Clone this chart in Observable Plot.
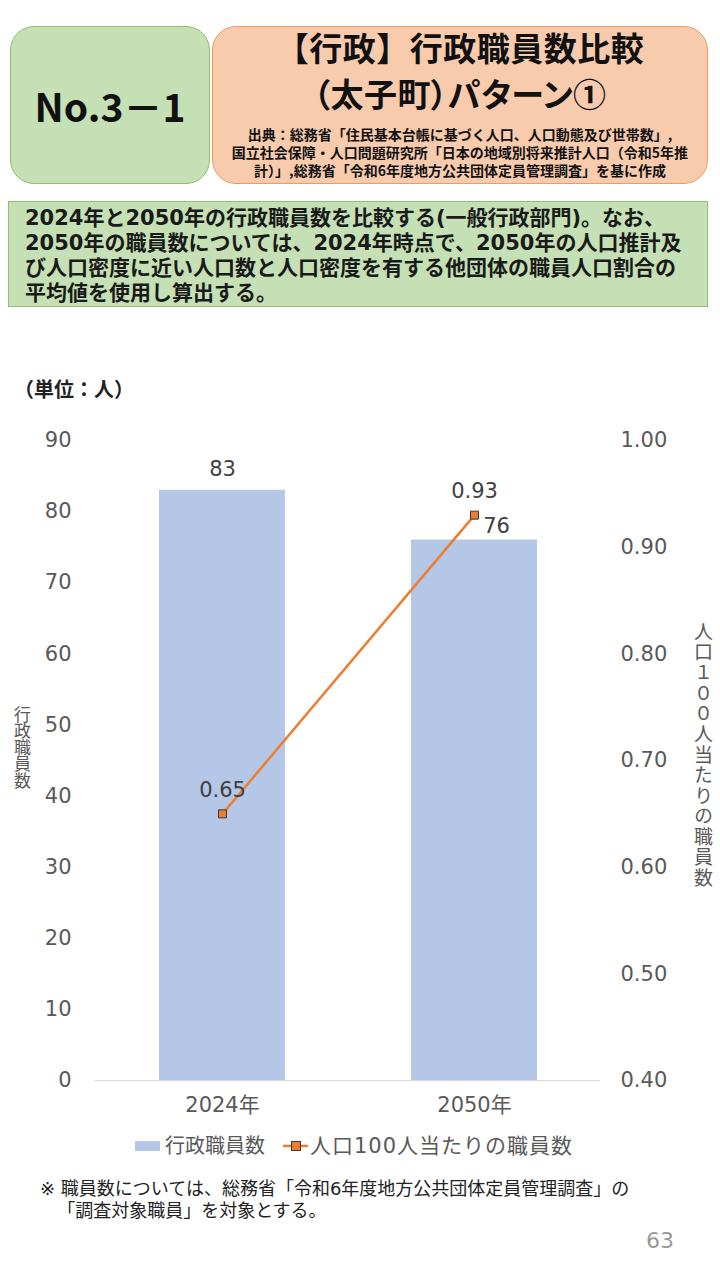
<!DOCTYPE html>
<html>
<head>
<meta charset="utf-8">
<script src="https://cdn.jsdelivr.net/npm/d3@7"></script>
<script src="https://cdn.jsdelivr.net/npm/@observablehq/plot@0.6"></script>
<style>
  html, body { margin:0; padding:0; background:#fff; }
  body { width:720px; height:1280px; position:relative; overflow:hidden;
         font-family:"DejaVu Sans","Noto Sans CJK JP",sans-serif; }
  .abs { position:absolute; }
  #noBox { left:10px; top:26px; width:200px; height:158px; box-sizing:border-box;
           background:#c5e0b4; border:1.5px solid #8fbf6f; border-radius:24px;
           display:flex; align-items:center; justify-content:center;
           font-family:"Noto Sans CJK JP",sans-serif;
           font-size:39px; font-weight:bold; color:#111; }
  #titleBox { left:212px; top:26px; width:496px; height:158px; box-sizing:border-box;
              background:#f8cbad; border:1.5px solid #ee9a66; border-radius:24px; text-align:center; }
  #title { position:absolute; left:0; right:0; top:-3px; font-family:"Noto Sans CJK JP",sans-serif;
           font-size:33px; font-weight:bold; line-height:46px; color:#111; white-space:nowrap; letter-spacing:0.5px; }
  #title .l2 { font-feature-settings:"palt"; }
  #source { position:absolute; left:0; right:0; top:98px; font-family:"Noto Sans CJK JP",sans-serif;
            font-size:14px; font-weight:bold; line-height:18px; color:#111; white-space:nowrap; }
  #desc { left:8px; top:201px; width:700px; height:106px; box-sizing:border-box;
          background:#c5e0b4; border:1.5px solid #8fbf6f; padding:4px 0 0 16px;
          font-size:21px; font-weight:bold; line-height:25px; color:#1a1a1a; white-space:nowrap; }
  #unit { left:14px; top:374px; font-family:"Noto Sans CJK JP",sans-serif; font-size:20px; font-weight:bold; color:#222; }
  .vt { writing-mode:vertical-rl; text-orientation:upright; color:#595959; font-family:"Noto Sans CJK JP",sans-serif; }
  #ytitleL { left:12px; top:706px; font-size:17px; line-height:20px; letter-spacing:-0.5px; }
  #ytitleR { left:692px; top:622px; font-size:19px; line-height:22px; letter-spacing:1.5px; }
  #legend { left:0; top:1133px; width:720px; height:26px; font-size:20px; color:#595959; }
  #legend span { position:absolute; top:0; white-space:nowrap; line-height:26px; }
  #note { left:40px; top:1178px; font-size:18px; line-height:22px; color:#222; white-space:nowrap; }
  #page { left:646px; top:1228px; font-size:22px; color:#999; }
</style>
</head>
<body>
<div id="noBox" class="abs">No.3－1</div>
<div id="titleBox" class="abs">
  <div id="title">【行政】行政職員数比較<br><span class="l2">（太子町）パターン①</span></div>
  <div id="source">出典：総務省「住民基本台帳に基づく人口、人口動態及び世帯数」,<br>国立社会保障・人口問題研究所「日本の地域別将来推計人口（令和5年推<br>計）」,総務省「令和6年度地方公共団体定員管理調査」を基に作成</div>
</div>
<div id="desc" class="abs">2024年と2050年の行政職員数を比較する(一般行政部門)。なお、<br>2050年の職員数については、2024年時点で、2050年の人口推計及<br>び人口密度に近い人口数と人口密度を有する他団体の職員人口割合の<br>平均値を使用し算出する。</div>
<div id="unit" class="abs">（単位：人）</div>
<div id="chart" class="abs" style="left:0;top:400px;"></div>
<div id="ytitleL" class="abs vt">行政職員数</div>
<div id="ytitleR" class="abs vt">人口１００人当たりの職員数</div>
<div id="legend" class="abs">
  <svg class="abs" style="left:0;top:0" width="720" height="26">
    <rect x="135" y="8" width="25" height="10" fill="#b4c7e7"></rect>
    <line x1="283" y1="13" x2="308" y2="13" stroke="#ed7d31" stroke-width="2.5"></line>
    <rect x="291.5" y="8.5" width="9" height="9" fill="#ed7d31" stroke="#3a3a3a" stroke-width="1"></rect>
  </svg>
  <span style="left:165px">行政職員数</span>
  <span style="left:310px;font-size:21px;letter-spacing:1px;">人口100人当たりの職員数</span>
</div>
<div id="note" class="abs">※ 職員数については、総務省「令和6年度地方公共団体定員管理調査」の<br>&nbsp;&nbsp;&nbsp;「調査対象職員」を対象とする。</div>
<div id="page" class="abs">63</div>

<script>
// ---- data ----
const categories = ["2024年", "2050年"];
const staffCounts = [83, 76];
const staffPer100 = [0.65, 0.93];
const leftTicks = [0, 10, 20, 30, 40, 50, 60, 70, 80, 90];
const rightTicks = [0.4, 0.5, 0.6, 0.7, 0.8, 0.9, 1.0];
const leftDomain = [0, 90];
const rightDomain = [0.4, 1.0];

// map right-axis values onto the left scale domain
const toLeft = v => (v - rightDomain[0]) / (rightDomain[1] - rightDomain[0]) * (leftDomain[1] - leftDomain[0]) + leftDomain[0];
const fromLeft = d => (d - leftDomain[0]) / (leftDomain[1] - leftDomain[0]) * (rightDomain[1] - rightDomain[0]) + rightDomain[0];

const rows = categories.map((c, i) => ({cat: c, staff: staffCounts[i], rate: staffPer100[i], rateY: toLeft(staffPer100[i])}));

const font = '"DejaVu Sans","Noto Sans CJK JP",sans-serif';
const plot = Plot.plot({
  width: 720,
  height: 720,
  marginTop: 40,
  marginBottom: 40,
  marginLeft: 95,
  marginRight: 120,
  style: {fontFamily: font, fontSize: "21px", color: "#595959", background: "transparent"},
  x: {domain: categories, paddingInner: 0.5, paddingOuter: 0.25, label: null},
  y: {domain: leftDomain, label: null},
  marks: [
    Plot.barY(rows, {x: "cat", y: "staff", fill: "#b4c7e7"}),
    Plot.ruleY([0], {stroke: "#d9d9d9", strokeWidth: 1}),
    Plot.axisY({ticks: leftTicks, tickSize: 0, tickPadding: 24, label: null, tickFormat: d => String(d)}),
    Plot.axisY({anchor: "right", ticks: rightTicks.map(toLeft), tickSize: 0, tickPadding: 20, label: null,
                tickFormat: d => fromLeft(d).toFixed(2)}),
    Plot.axisX({tickSize: 0, tickPadding: 17, label: null}),
    Plot.line(rows, {x: "cat", y: "rateY", stroke: "#ed7d31", strokeWidth: 2.5}),
    Plot.dot(rows, {x: "cat", y: "rateY", symbol: "square", r: 4.5, fill: "#ed7d31", stroke: "#3a3a3a", strokeWidth: 1}),
    Plot.text(rows, {x: "cat", y: "rateY", text: d => d.rate.toFixed(2), dy: -24, fill: "#404040", fontSize: 21}),
    Plot.text(rows.slice(0, 1), {x: "cat", y: "staff", text: d => String(d.staff), dy: -21, fill: "#404040", fontSize: 21}),
    Plot.text(rows.slice(1, 2), {x: "cat", y: "staff", text: d => String(d.staff), dx: 22, dy: -14, fill: "#404040", fontSize: 21})
  ]
});
document.getElementById("chart").appendChild(plot);
</script>
</body>
</html>
